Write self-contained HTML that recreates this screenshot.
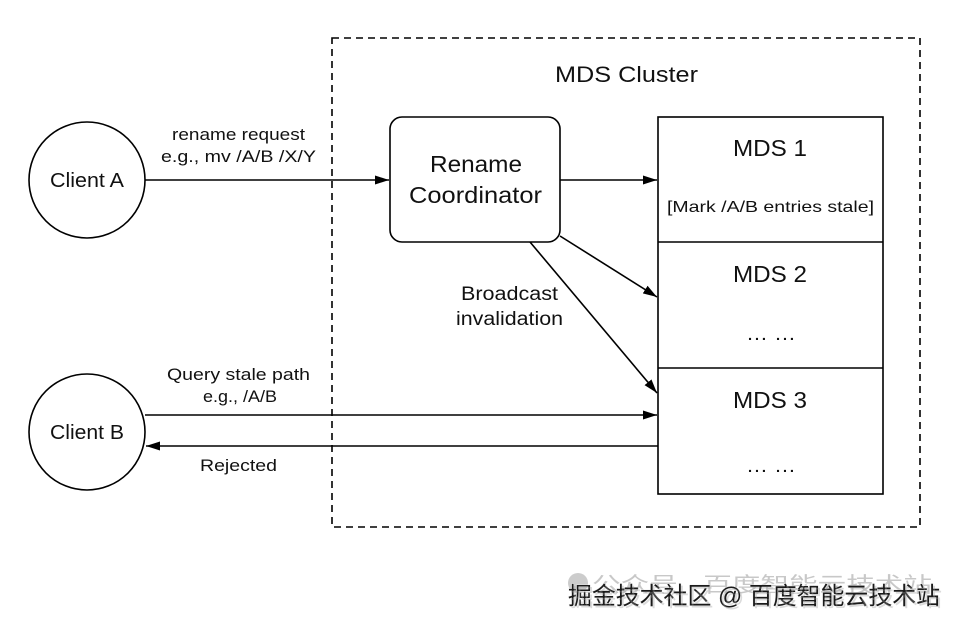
<!DOCTYPE html>
<html><head><meta charset="utf-8">
<style>
html,body{margin:0;padding:0;background:#fff;}
svg{display:block;}
text{font-family:"Liberation Sans","Noto Sans CJK SC",sans-serif;fill:#111;}
</style></head>
<body>
<svg width="960" height="627" viewBox="0 0 960 627" xmlns="http://www.w3.org/2000/svg">
<defs>
<marker id="a" viewBox="0 0 14 10" refX="14" refY="5" markerWidth="14" markerHeight="10" markerUnits="userSpaceOnUse" orient="auto">
<path d="M0,0.5 L14,5 L0,9.5 z" fill="#000"/>
</marker>
</defs>
<rect x="332" y="38" width="588" height="489" fill="none" stroke="#000" stroke-width="1.6" stroke-dasharray="7,5"/>
<text x="555" y="82" font-size="22" textLength="143" lengthAdjust="spacingAndGlyphs">MDS Cluster</text>

<circle cx="87" cy="180" r="58" fill="none" stroke="#000" stroke-width="1.6"/>
<text x="50" y="187" font-size="20" textLength="74" lengthAdjust="spacingAndGlyphs">Client A</text>
<circle cx="87" cy="432" r="58" fill="none" stroke="#000" stroke-width="1.6"/>
<text x="50" y="439" font-size="20" textLength="74" lengthAdjust="spacingAndGlyphs">Client B</text>

<rect x="390" y="117" width="170" height="125" rx="12" fill="none" stroke="#000" stroke-width="1.6"/>
<text x="430" y="172" font-size="23" textLength="92" lengthAdjust="spacingAndGlyphs">Rename</text>
<text x="409" y="203" font-size="23" textLength="133" lengthAdjust="spacingAndGlyphs">Coordinator</text>

<rect x="658" y="117" width="225" height="377" fill="none" stroke="#000" stroke-width="1.6"/>
<line x1="658" y1="242" x2="883" y2="242" stroke="#000" stroke-width="1.6"/>
<line x1="658" y1="368" x2="883" y2="368" stroke="#000" stroke-width="1.6"/>
<text x="733" y="156" font-size="23" textLength="74" lengthAdjust="spacingAndGlyphs">MDS 1</text>
<text x="667" y="212" font-size="16" textLength="207" lengthAdjust="spacingAndGlyphs">[Mark /A/B entries stale]</text>
<text x="733" y="282" font-size="23" textLength="74" lengthAdjust="spacingAndGlyphs">MDS 2</text>
<text x="746" y="340" font-size="20" textLength="50" lengthAdjust="spacingAndGlyphs">… …</text>
<text x="733" y="408" font-size="23" textLength="74" lengthAdjust="spacingAndGlyphs">MDS 3</text>
<text x="746" y="472" font-size="20" textLength="50" lengthAdjust="spacingAndGlyphs">… …</text>

<line x1="145" y1="180" x2="389" y2="180" stroke="#000" stroke-width="1.6" marker-end="url(#a)"/>
<text x="172" y="140" font-size="17" textLength="133" lengthAdjust="spacingAndGlyphs">rename request</text>
<text x="161" y="162" font-size="17" textLength="155" lengthAdjust="spacingAndGlyphs">e.g., mv /A/B /X/Y</text>

<line x1="560" y1="180" x2="657" y2="180" stroke="#000" stroke-width="1.6" marker-end="url(#a)"/>
<line x1="560" y1="236" x2="657" y2="297" stroke="#000" stroke-width="1.6" marker-end="url(#a)"/>
<line x1="530" y1="242" x2="657" y2="393" stroke="#000" stroke-width="1.6" marker-end="url(#a)"/>
<text x="461" y="300" font-size="19" textLength="97" lengthAdjust="spacingAndGlyphs">Broadcast</text>
<text x="456" y="325" font-size="19" textLength="107" lengthAdjust="spacingAndGlyphs">invalidation</text>

<line x1="145" y1="415" x2="657" y2="415" stroke="#000" stroke-width="1.6" marker-end="url(#a)"/>
<text x="167" y="380" font-size="17" textLength="143" lengthAdjust="spacingAndGlyphs">Query stale path</text>
<text x="203" y="402" font-size="17" textLength="74" lengthAdjust="spacingAndGlyphs">e.g., /A/B</text>
<line x1="658" y1="446" x2="146" y2="446" stroke="#000" stroke-width="1.6" marker-end="url(#a)"/>
<text x="200" y="471" font-size="17" textLength="77" lengthAdjust="spacingAndGlyphs">Rejected</text>

<circle cx="578" cy="583" r="10" fill="#ccc"/>
<text x="592" y="592" font-size="21" style="fill:#c8c8c8" textLength="340" lengthAdjust="spacingAndGlyphs">公众号 · 百度智能云技术站</text>
<text x="568" y="604" font-size="24" style="fill:#1a1a1a;stroke:#eee;stroke-width:0.8;paint-order:stroke" textLength="372" lengthAdjust="spacingAndGlyphs">掘金技术社区 @ 百度智能云技术站</text>
<text x="570" y="606" font-size="24" style="fill:#999;opacity:0.35" textLength="372" lengthAdjust="spacingAndGlyphs">掘金技术社区 @ 百度智能云技术站</text>
</svg>
</body></html>
